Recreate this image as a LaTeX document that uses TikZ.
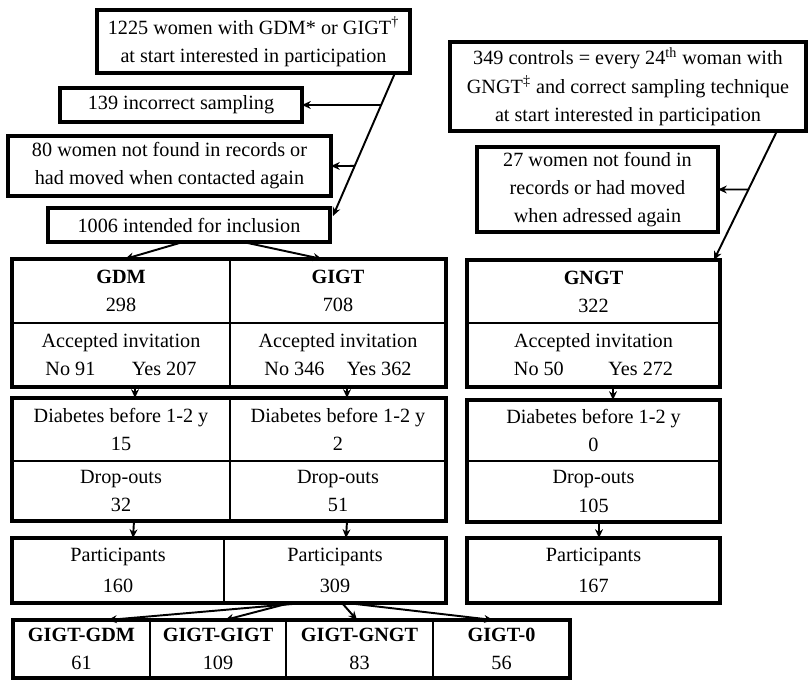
\documentclass[tikz,border=0pt]{standalone}
\usepackage{fontspec}
\setmainfont{Liberation Serif}
\usepackage{tikz}
\usetikzlibrary{arrows.meta}
\usetikzlibrary{calc}
\usetikzlibrary{positioning}

\tikzset{
  cell/.style={draw, line width=1.1pt, inner sep=0pt, outer sep=0pt, align=center,
    font=\fontsize{11.5}{16}\selectfont},
  frame/.style={line width=1.8pt},
  heavy/.style={line width=2.6pt},
  link/.style={line width=1.1pt, -{Stealth[length=5pt,width=4.5pt]}},
}

\begin{document}
\begin{tikzpicture}
          \useasboundingbox (0,0) rectangle (16.22,13.6);
          % cases
          \node[cell, heavy, anchor=north west, minimum width=6.26cm, minimum height=1.26cm] (start) at (1.94,13.40) {1225 women with GDM* or GIGT\textsuperscript{†}\\at start interested in participation};
          \node[cell, frame, anchor=north west, minimum width=4.84cm, minimum height=0.68cm] (wrong) at (1.20,11.84) {139 incorrect sampling};
          \node[cell, heavy, anchor=north west, minimum width=6.46cm, minimum height=1.20cm] (lost) at (0.16,10.88) {80 women not found in records or\\had moved when contacted again};
          \node[cell, heavy, anchor=north west, minimum width=5.64cm, minimum height=0.68cm] (incl) at (0.96,9.44) {1006 intended for inclusion};
          % controls
          \node[cell, heavy, anchor=north west, minimum width=7.12cm, minimum height=1.78cm] (ctrl) at (9.00,12.76) {349 controls = every 24\textsuperscript{th} woman with\\GNGT\textsuperscript{‡} and correct sampling technique\\at start interested in participation};
          \node[cell, heavy, anchor=north west, minimum width=4.82cm, minimum height=1.70cm] (ctrllost) at (9.54,10.66) {27 women not found in\\records or had moved\\when adressed again};

          \node[cell, anchor=north west, minimum width=4.36cm, minimum height=1.28cm] (gdm) at (0.24,8.42) {\textbf{GDM}\\298};
          \node[cell, right=0pt of gdm, minimum width=4.32cm, minimum height=1.28cm] (gigt) {\textbf{GIGT}\\708};
          \node[cell, below=0pt of gdm, minimum width=4.36cm, minimum height=1.28cm] (accgdm) {Accepted invitation\\No 91\hspace{1.8em}Yes 207};
          \node[cell, below=0pt of gigt, minimum width=4.32cm, minimum height=1.28cm] (accgigt) {Accepted invitation\\No 346\hspace{1.1em}Yes 362};
          \draw[frame] (gdm.north west) rectangle (accgigt.south east);

          \node[cell, anchor=north west, minimum width=4.36cm, minimum height=1.26cm] (diabgdm) at (0.24,5.64) {Diabetes before 1-2 y\\15};
          \node[cell, right=0pt of diabgdm, minimum width=4.32cm, minimum height=1.26cm] (diabgigt) {Diabetes before 1-2 y\\2};
          \node[cell, below=0pt of diabgdm, minimum width=4.36cm, minimum height=1.20cm] (dropgdm) {Drop-outs\\32};
          \node[cell, below=0pt of diabgigt, minimum width=4.32cm, minimum height=1.20cm] (dropgigt) {Drop-outs\\51};
          \draw[heavy] (diabgdm.north west) rectangle (dropgigt.south east);

          \node[cell, anchor=north west, minimum width=4.24cm, minimum height=1.30cm] (partgdm) at (0.24,2.84) {Participants\\[2pt]160};
          \node[cell, right=0pt of partgdm, minimum width=4.44cm, minimum height=1.30cm] (partgigt) {Participants\\[2pt]309};
          \draw[frame] (partgdm.north west) rectangle (partgigt.south east);

          \node[cell, anchor=north west, minimum width=2.74cm, minimum height=1.16cm] (gg1) at (0.26,1.20) {\textbf{GIGT-GDM}\\61};
          \node[cell, right=0pt of gg1, minimum width=2.72cm, minimum height=1.16cm] (gg2) {\textbf{GIGT-GIGT}\\109};
          \node[cell, right=0pt of gg2, minimum width=2.94cm, minimum height=1.16cm] (gg3) {\textbf{GIGT-GNGT}\\83};
          \node[cell, right=0pt of gg3, minimum width=2.74cm, minimum height=1.16cm] (gg4) {\textbf{GIGT-0}\\56};
          \draw[heavy] (gg1.north west) rectangle (gg4.south east);

          \node[cell, anchor=north west, minimum width=5.06cm, minimum height=1.26cm] (gngt) at (9.34,8.40) {\textbf{GNGT}\\322};
          \node[cell, below=0pt of gngt, minimum width=5.06cm, minimum height=1.28cm] (accgngt) {Accepted invitation\\No 50\hspace{2.2em}Yes 272};
          \draw[frame] (gngt.north west) rectangle (accgngt.south east);

          \node[cell, anchor=north west, minimum width=5.06cm, minimum height=1.22cm] (diabgngt) at (9.34,5.60) {Diabetes before 1-2 y\\0};
          \node[cell, below=0pt of diabgngt, minimum width=5.06cm, minimum height=1.22cm] (dropgngt) {Drop-outs\\105};
          \draw[heavy] (diabgngt.north west) rectangle (dropgngt.south east);

          \node[cell, frame, anchor=north west, minimum width=5.06cm, minimum height=1.30cm] (partgngt) at (9.34,2.84) {Participants\\[2pt]167};

          % connectors
          \coordinate (s1) at ($(start.south east)+(-0.30,0)$);
          \coordinate (s2) at ($(incl.north east)+(0.06,-0.16)$);
          \draw[link] (s1) -- (s2);
          \draw[link] (intersection of s1--s2 and wrong.west--wrong.east) -- (wrong.east);
          \draw[link] (intersection of s1--s2 and lost.west--lost.east) -- (lost.east);
          \draw[link] ($(incl.south)+(-0.12,0)$) -- ($(gdm.north)+(0.08,0)$);
          \draw[link] ($(incl.south)+(1.08,0)$) -- ($(gigt.north)+(-0.32,0)$);

          \coordinate (c1) at ($(ctrl.south east)+(-0.58,0)$);
          \coordinate (c2) at ($(gngt.north east)+(-0.12,0)$);
          \draw[link] (c1) -- (c2);
          \draw[link] (intersection of c1--c2 and ctrllost.west--ctrllost.east) -- (ctrllost.east);

          \draw[link] ([xshift=0.28cm]accgdm.south) -- ([xshift=0.28cm]diabgdm.north);
          \draw[link] ([xshift=0.18cm]accgigt.south) -- ([xshift=0.18cm]diabgigt.north);
          \draw[link] ([xshift=0.39cm]accgngt.south) -- ([xshift=0.39cm]diabgngt.north);
          \draw[link] ([xshift=0.26cm]dropgdm.south) -- ([xshift=0.30cm]partgdm.north);
          \draw[link] ([xshift=0.18cm]dropgigt.south) -- ([xshift=0.22cm]partgigt.north);
          \draw[link] ([xshift=0.11cm]dropgngt.south) -- ([xshift=0.11cm]partgngt.north);

          \draw[link] ([xshift=-0.62cm]partgigt.south) -- ([xshift=0.53cm]gg1.north);
          \draw[link] ([xshift=-0.90cm]partgigt.south) -- ([xshift=0.14cm]gg2.north);
          \draw[link] ([xshift=0.14cm]partgigt.south) -- ([xshift=-0.05cm]gg3.north);
          \draw[link] ([xshift=0.24cm]partgigt.south) -- ([xshift=-0.17cm]gg4.north);
        \end{tikzpicture}
\end{document}
